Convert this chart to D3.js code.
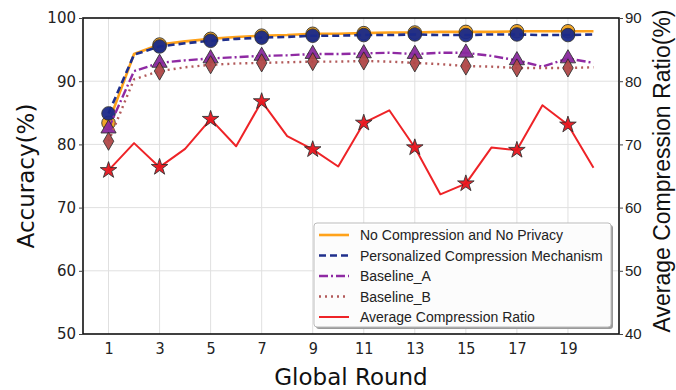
<!DOCTYPE html>
<html>
<head>
<meta charset="utf-8">
<script src="https://cdn.jsdelivr.net/npm/d3@7"></script>
<style>
  body { margin: 0; background: #fff; }
  svg { display: block; }
</style>
</head>
<body>
<svg id="chart" width="676" height="390"></svg>
<script>
// ---- data
var rounds = d3.range(1, 21)
var noCompression = [83.4, 94.3, 95.8, 96.3, 96.7, 97.0, 97.2, 97.3, 97.5, 97.5, 97.6, 97.7, 97.7, 97.8, 97.8, 97.8, 97.9, 97.9, 97.9, 97.9]
var personalized = [84.9, 94.2, 95.5, 96.0, 96.4, 96.7, 96.9, 97.0, 97.2, 97.2, 97.3, 97.3, 97.4, 97.3, 97.3, 97.4, 97.4, 97.3, 97.3, 97.4]
var baselineA = [82.5, 91.6, 92.9, 93.3, 93.6, 93.8, 94.0, 94.1, 94.3, 94.3, 94.4, 94.5, 94.3, 94.5, 94.5, 94.0, 93.3, 92.3, 93.6, 92.9]
var baselineB = [80.5, 90.3, 91.6, 92.2, 92.6, 92.8, 92.9, 93.0, 93.1, 93.1, 93.2, 93.1, 92.9, 92.7, 92.4, 92.3, 92.1, 92.1, 92.1, 92.2]
var compRatio = [65.9, 70.2, 66.4, 69.3, 74.0, 69.7, 76.8, 71.3, 69.2, 66.5, 73.4, 75.4, 69.5, 62.1, 63.8, 69.5, 69.1, 76.2, 73.1, 66.3]
var xTicks = [1, 3, 5, 7, 9, 11, 13, 15, 17, 19]
var leftTicks = [50, 60, 70, 80, 90, 100]
var rightTicks = [40, 50, 60, 70, 80, 90]
var legendLabels = ["No Compression and No Privacy", "Personalized Compression Mechanism", "Baseline_A", "Baseline_B", "Average Compression Ratio"]

var svg = d3.select("#chart")
var margin = { top: 18, right: 57, bottom: 56, left: 83 },
  width = 676 - margin.left - margin.right,
  height = 390 - margin.top - margin.bottom

var x = d3.scaleLinear().domain([0, 21]).range([margin.left, margin.left + width])
var yL = d3.scaleLinear().domain([50, 100]).range([margin.top + height, margin.top])
var yR = d3.scaleLinear().domain([40, 90]).range([margin.top + height, margin.top])

//----- grid
svg.append("g").selectAll("line").data(xTicks).join("line")
  .attr("x1", d => x(d)).attr("x2", d => x(d))
  .attr("y1", margin.top).attr("y2", margin.top + height)
  .attr("stroke", "#e0e0e0").attr("stroke-width", 1)
svg.append("g").selectAll("line").data(leftTicks.slice(1, -1)).join("line")
  .attr("x1", margin.left).attr("x2", margin.left + width)
  .attr("y1", d => yL(d)).attr("y2", d => yL(d))
  .attr("stroke", "#e0e0e0").attr("stroke-width", 1)

//----- series
var series = [
  { key: "nc", vals: noCompression, y: yL, color: "#ffa21a", dash: null, w: 2.6, sym: d3.symbolCircle, size: 145, fill: "#f2a31c" },
  { key: "pc", vals: personalized, y: yL, color: "#1f2f8c", dash: "7,4", w: 2.6, sym: d3.symbolCircle, size: 145, fill: "#1b2a8a" },
  { key: "ba", vals: baselineA, y: yL, color: "#8f2aa3", dash: "9,3,2,3", w: 2.4, sym: d3.symbolTriangle, size: 100, fill: "#8a2a9e" },
  { key: "bb", vals: baselineB, y: yL, color: "#b25a5a", dash: "2,4", w: 2.4, sym: d3.symbolDiamond, size: 95, fill: "#b04848" },
  { key: "cr", vals: compRatio, y: yR, color: "#ee2327", dash: null, w: 2, sym: d3.symbolStar, size: 85, fill: "#e8161e" }
]

series.forEach(s => {
  var line = d3.line().x((d, i) => x(rounds[i])).y(d => s.y(d))
  svg.append("path").datum(s.vals)
    .attr("d", line).attr("fill", "none")
    .attr("stroke", s.color).attr("stroke-width", s.w)
    .attr("stroke-dasharray", s.dash)
    .attr("stroke-linejoin", "round")
  // markers at odd rounds
  svg.append("g").selectAll("path").data(s.vals.filter((d, i) => i % 2 == 0)).join("path")
    .attr("d", d3.symbol().type(s.sym).size(s.size))
    .attr("transform", (d, i) => "translate(" + x(rounds[i * 2]) + "," + s.y(d) + ")")
    .attr("fill", s.fill).attr("stroke", "#2a2a2a").attr("stroke-width", 0.9)
    .attr("opacity", 0.95)
})

//----- frame
svg.append("rect").attr("x", margin.left).attr("y", margin.top)
  .attr("width", width).attr("height", height)
  .attr("fill", "none").attr("stroke", "#111").attr("stroke-width", 1.6)

//----- axes
var gx = svg.append("g").attr("transform", "translate(0," + (margin.top + height) + ")")
  .call(d3.axisBottom(x).tickValues(xTicks).tickSize(0).tickPadding(9))
gx.select(".domain").remove()
gx.selectAll("text").style("font-family", "DejaVu Sans Condensed").style("font-size", "16px").attr("fill", "#222")

var gl = svg.append("g").attr("transform", "translate(" + margin.left + ",0)")
  .call(d3.axisLeft(yL).tickValues(leftTicks).tickSize(4).tickPadding(3))
gl.select(".domain").remove()
gl.selectAll(".tick line").attr("stroke", "#444")
gl.selectAll("text").style("font-family", "DejaVu Sans").style("font-size", "15px").attr("fill", "#222")

var gr = svg.append("g").attr("transform", "translate(" + (margin.left + width) + ",0)")
  .call(d3.axisRight(yR).tickValues(rightTicks).tickSize(4).tickPadding(2))
gr.select(".domain").remove()
gr.selectAll(".tick line").attr("stroke", "#444")
gr.selectAll("text").style("font-family", "Liberation Sans").style("font-size", "15px").attr("fill", "#222")

//----- axis labels
svg.append("text").attr("x", 351).attr("y", 385).attr("text-anchor", "middle")
  .style("font-family", "DejaVu Sans").style("font-size", "23px").attr("fill", "#111")
  .text("Global Round")
svg.append("text").attr("transform", "translate(34,176) rotate(-90)").attr("text-anchor", "middle")
  .style("font-family", "DejaVu Sans").style("font-size", "23px").attr("fill", "#111")
  .text("Accuracy(%)")
svg.append("text").attr("transform", "translate(670,171) rotate(-90)").attr("text-anchor", "middle")
  .style("font-family", "Liberation Sans").style("font-size", "23px").attr("fill", "#111")
  .text("Average Compression Ratio(%)")

//----- legend
var lg = svg.append("g").attr("transform", "translate(314,223)")
lg.append("rect").attr("x", 2).attr("y", 2).attr("width", 297).attr("height", 104).attr("rx", 3)
  .attr("fill", "#9a9a9a")
lg.append("rect").attr("width", 297).attr("height", 104).attr("rx", 3)
  .attr("fill", "#fff").attr("fill-opacity", 0.97).attr("stroke", "#bbb").attr("stroke-width", 1)
var items = lg.selectAll(".item").data(series).join("g").attr("class", "item")
  .attr("transform", (d, i) => "translate(0," + (12 + i * 20.5) + ")")
items.append("line").attr("x1", 5).attr("x2", 35).attr("y1", 0).attr("y2", 0)
  .attr("stroke", d => d.color).attr("stroke-width", d => d.w)
  .attr("stroke-dasharray", d => d.dash)
items.append("text").attr("x", 46).attr("y", 5)
  .style("font-family", "Liberation Sans").style("font-size", "14px").attr("fill", "#222")
  .text((d, i) => legendLabels[i])
</script>
</body>
</html>
